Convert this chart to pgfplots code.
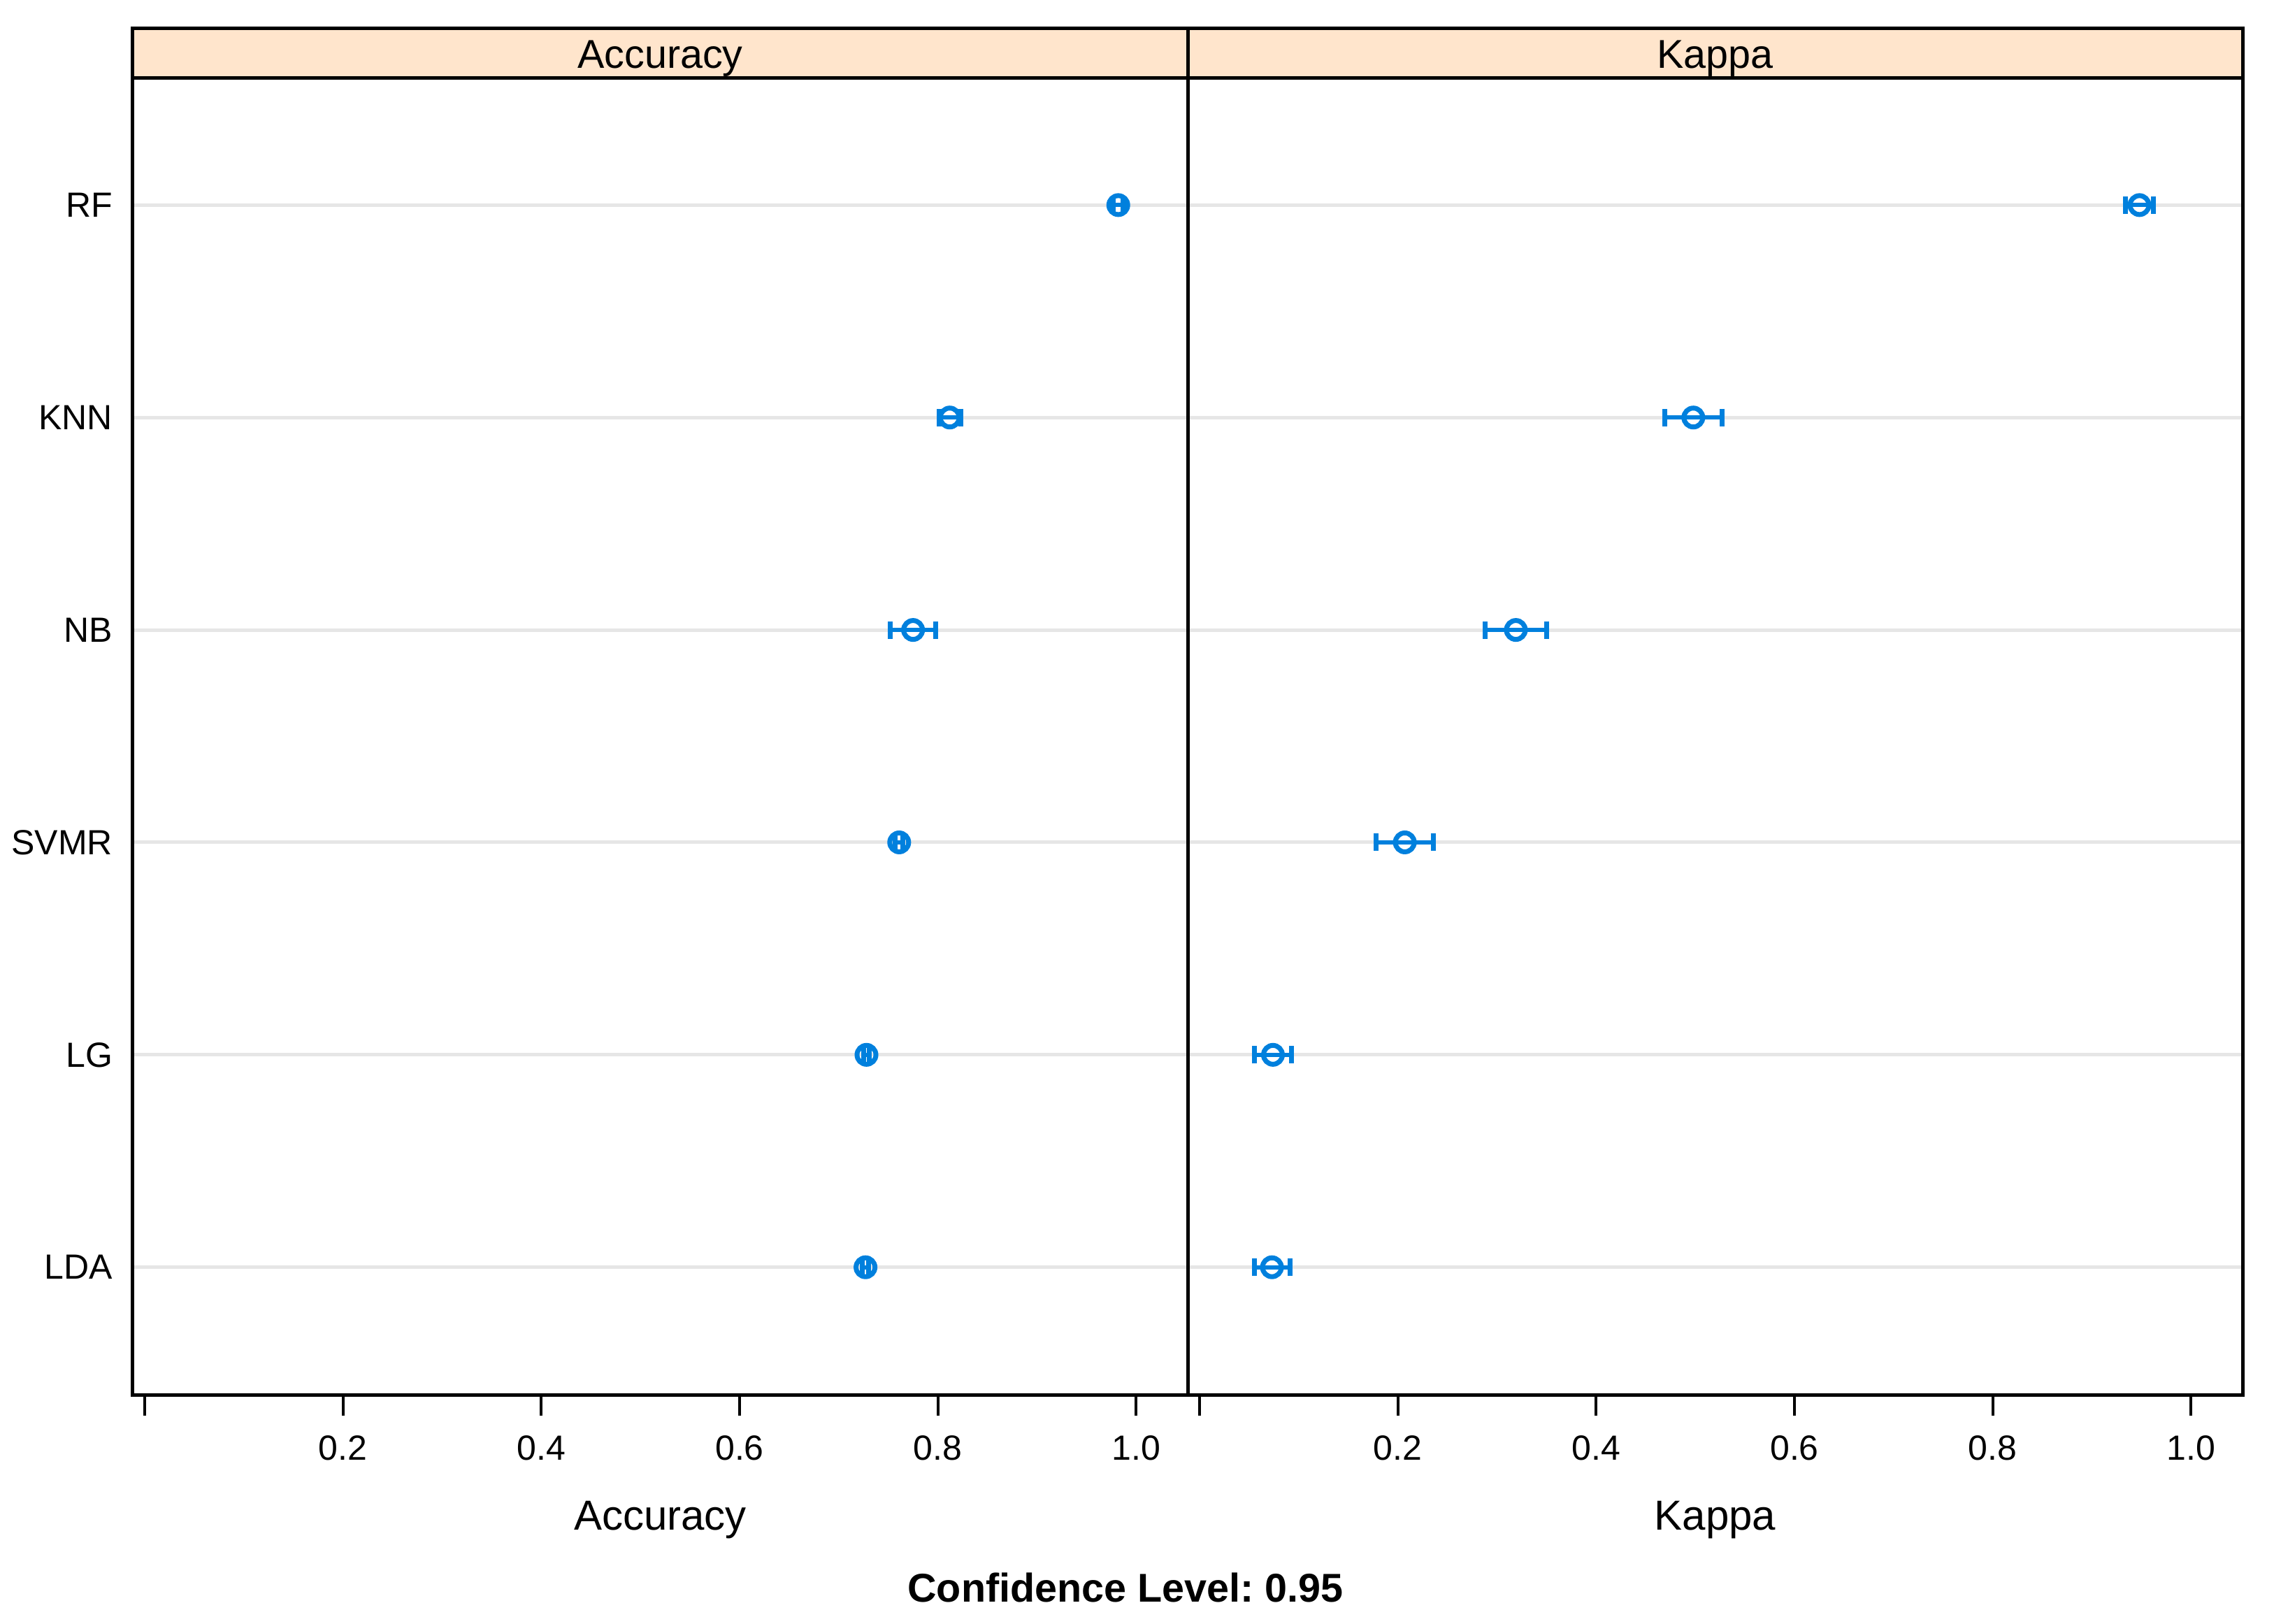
\documentclass[border=0pt]{standalone}
\usepackage{fontspec}
\setmainfont{Liberation Sans}
\usepackage{pgfplots}
\usepackage{pgfplotstable}
\pgfplotsset{compat=1.18}

\definecolor{stripc}{HTML}{FFE5CC}
\definecolor{dotc}{HTML}{0080DD}
\definecolor{refc}{HTML}{E6E6E6}

% model, position, estimate and half width of the 95% interval
\pgfplotstableread{
pos name acc accerr kap kaperr
6 RF   0.982 0.005 0.948 0.014
5 KNN  0.812 0.011 0.498 0.029
4 NB   0.775 0.023 0.319 0.031
3 SVMR 0.761 0.004 0.207 0.029
2 LG   0.728 0.003 0.074 0.019
1 LDA  0.727 0.003 0.073 0.018
}\results

\pgfplotsset{
  panel/.style={
    scale only axis, width=301.8pt, height=376.8pt,
    xmin=-0.012, xmax=1.052, ymin=0.4, ymax=6.6,
    xtick={0,0.2,0.4,0.6,0.8,1.0},
    xticklabels={,0.2,0.4,0.6,0.8,1.0},
    ytick={1,2,3,4,5,6},
    xtick pos=bottom, ytick pos=left,
    tick align=outside, major tick length=6pt,
    xtick style={black, line width=0.8pt},
    ytick style={draw=none},
    axis line style={line width=1pt},
    ymajorgrids, grid style={refc, line width=1pt},
    xticklabel style={font=\fontsize{10}{11}\selectfont, anchor=base, yshift=-12.6pt},
    yticklabel style={font=\fontsize{10}{11}\selectfont, anchor=east, inner sep=0pt, xshift=0.4pt},
    xlabel style={at={(axis description cs:0.5,0)}, anchor=base, yshift=-38.6pt,
      font=\fontsize{12}{13}\selectfont},
  },
  dots/.style={dotc, only marks, mark=o, mark size=2.7pt,
    mark options={line width=1.4pt},
    error bars/.cd, x dir=both, x explicit,
    error bar style={line width=1.2pt, dotc},
    error mark=|,
    error mark options={line width=1.4pt, mark size=2.5pt, dotc}},
}

\begin{document}
\begin{tikzpicture}
\begin{axis}[panel, name=acc, at={(0,0)}, anchor=south west,
  yticklabels={LDA,LG,SVMR,NB,KNN,RF}, xlabel={Accuracy}]
\addplot[dots] table[x=acc, y=pos, x error=accerr] {\results};
\end{axis}

\begin{axis}[panel, name=kap, at={(301.8pt,0)}, anchor=south west,
  yticklabels={}, xlabel={Kappa}]
\addplot[dots] table[x=kap, y=pos, x error=kaperr] {\results};
\end{axis}

% strips
\draw[fill=stripc, line width=1pt] (acc.north west) rectangle ([yshift=14.2pt]acc.north east);
\draw[fill=stripc, line width=1pt] (kap.north west) rectangle ([yshift=14.2pt]kap.north east);
\node[anchor=base, font=\fontsize{11.5}{12}\selectfont] at ([yshift=2.8pt]acc.north) {Accuracy};
\node[anchor=base, font=\fontsize{11.5}{12}\selectfont] at ([yshift=2.8pt]kap.north) {Kappa};

\node[anchor=base, font=\bfseries\fontsize{11.5}{12}\selectfont] at (284pt,-59.2pt) {\frenchspacing Confidence Level: 0.95};

\pgfresetboundingbox
\path (-38pt,-65.4pt) rectangle (612.6pt,399pt);
\end{tikzpicture}
\end{document}
